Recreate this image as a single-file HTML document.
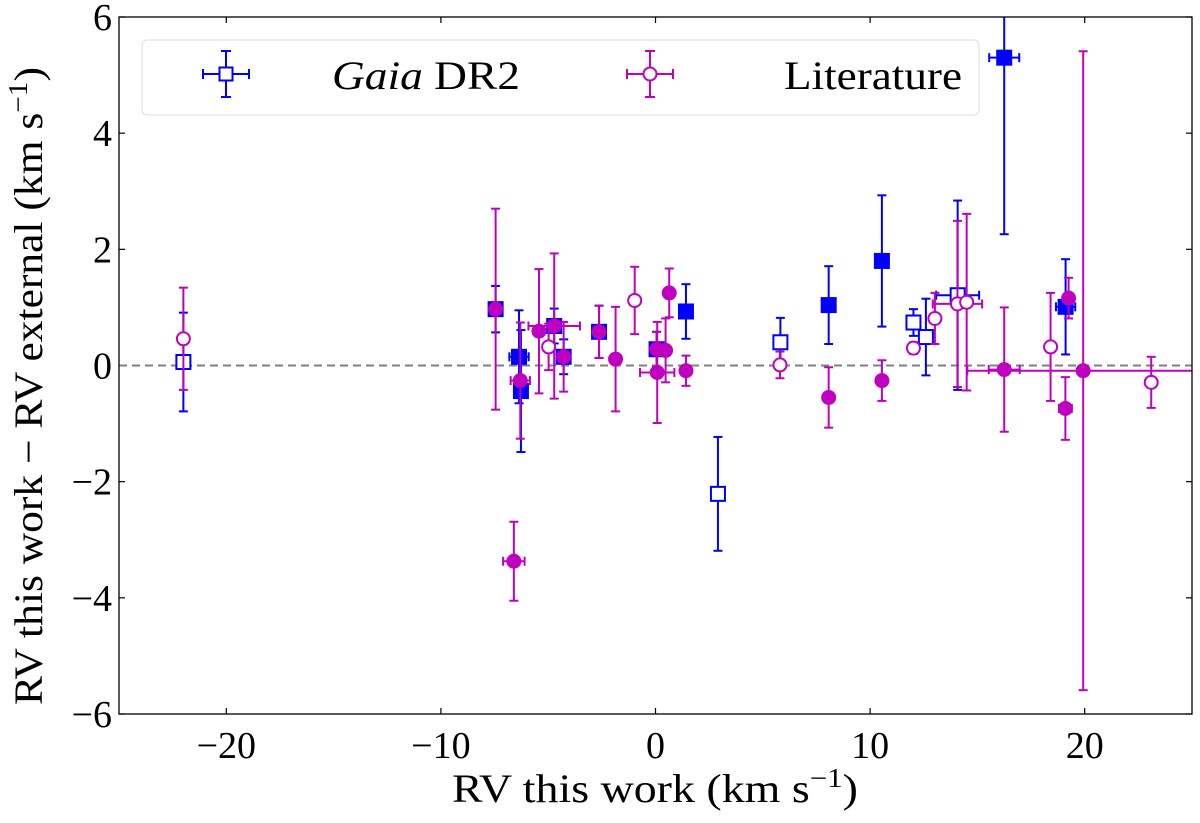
<!DOCTYPE html>
<html><head><meta charset="utf-8"><style>
html,body{margin:0;padding:0;background:#fff;}
svg text{font-family:"Liberation Serif",serif;fill:#000;}
</style></head><body>
<svg id="chart" width="1200" height="818" viewBox="0 0 1200 818" xmlns="http://www.w3.org/2000/svg">
<defs><clipPath id="plotclip"><rect x="119" y="17" width="1073" height="697"/></clipPath></defs>
<rect x="0" y="0" width="1200" height="818" fill="#fff"/>
<g id="grid"></g>
<g id="marks" clip-path="url(#plotclip)"></g>
<rect x="119" y="17" width="1073" height="697" fill="none" stroke="#000" stroke-width="1.3"/>
<g id="legend">
  <rect x="142" y="40" width="837" height="75" rx="5" fill="#fff" fill-opacity="0.8" stroke="#ddd" stroke-width="1"/>
  <g>
    <line x1="203" y1="74" x2="249" y2="74" stroke="#0000ff" stroke-width="2"/>
    <line x1="203" y1="69" x2="203" y2="79" stroke="#0000ff" stroke-width="2"/>
    <line x1="249" y1="69" x2="249" y2="79" stroke="#0000ff" stroke-width="2"/>
    <line x1="226" y1="51" x2="226" y2="97" stroke="#0000ff" stroke-width="2"/>
    <line x1="221" y1="51" x2="231" y2="51" stroke="#0000ff" stroke-width="2"/>
    <line x1="221" y1="97" x2="231" y2="97" stroke="#0000ff" stroke-width="2"/>
    <rect x="219.5" y="67.5" width="13" height="13" fill="#fff" stroke="#0000ff" stroke-width="2"/>
    <text x="332" y="89" font-size="40" textLength="188" lengthAdjust="spacingAndGlyphs"><tspan font-style="italic">Gaia</tspan> DR2</text>
  </g>
  <g>
    <line x1="627" y1="74" x2="673" y2="74" stroke="#bf00bf" stroke-width="2"/>
    <line x1="627" y1="69" x2="627" y2="79" stroke="#bf00bf" stroke-width="2"/>
    <line x1="673" y1="69" x2="673" y2="79" stroke="#bf00bf" stroke-width="2"/>
    <line x1="650" y1="51" x2="650" y2="97" stroke="#bf00bf" stroke-width="2"/>
    <line x1="645" y1="51" x2="655" y2="51" stroke="#bf00bf" stroke-width="2"/>
    <line x1="645" y1="97" x2="655" y2="97" stroke="#bf00bf" stroke-width="2"/>
    <circle cx="650" cy="74" r="6.5" fill="#fff" stroke="#bf00bf" stroke-width="2"/>
    <text x="784" y="89" font-size="40" textLength="178" lengthAdjust="spacingAndGlyphs">Literature</text>
  </g>
</g>
<text x="452" y="802" font-size="40" textLength="406" lengthAdjust="spacingAndGlyphs">RV this work (km s<tspan dy="-15" font-size="27">−1</tspan><tspan dy="15">)</tspan></text>
<text transform="translate(42,705) rotate(-90)" font-size="40" textLength="638" lengthAdjust="spacingAndGlyphs">RV this work − RV external (km s<tspan dy="-15" font-size="27">−1</tspan><tspan dy="15">)</tspan></text>
</svg>
<script>
const xTicks = [-20, -10, 0, 10, 20];
const yTicks = [-6, -4, -2, 0, 2, 4, 6];
const xTickLabels = ["−20", "−10", "0", "10", "20"];
const yTickLabels = ["−6", "−4", "−2", "0", "2", "4", "6"];

const gaiaX = [-22.0, -7.45, -6.36, -6.27, -4.72, -4.28, -2.63, 0.05, 1.42, 2.91, 5.82, 8.07, 10.55, 12.02, 12.6, 14.08, 16.25, 19.11];
const gaiaY = [0.06, 0.97, 0.15, -0.44, 0.68, 0.15, 0.58, 0.28, 0.93, -2.21, 0.40, 1.04, 1.8, 0.74, 0.49, 1.21, 5.3, 1.01];
const gaiaXerr = [0, 0, 0.45, 0, 0, 0, 0, 0, 0, 0, 0, 0, 0, 0, 0, 1.0, 0.7, 0.45];
const gaiaYerr = [0.85, 0.4, 0.8, 1.05, 0.3, 0.3, 0.45, 0.3, 0.47, 0.98, 0.42, 0.67, 1.13, 0.23, 0.66, 1.63, 3.04, 0.82];
const gaiaFilled = [0, 1, 1, 1, 1, 1, 1, 1, 1, 0, 0, 1, 1, 0, 0, 0, 1, 1];

const litX = [-22.0, -7.45, -6.6, -6.3, -5.43, -4.72, -4.98, -4.28, -2.63, -1.86, -0.97, 0.08, 0.05, 0.47, 0.64, 1.42, 5.8, 8.07, 10.55, 12.02, 13.02, 14.07, 14.5, 16.25, 18.41, 19.1, 19.25, 19.93, 23.1];
const litY = [0.46, 0.97, -3.37, -0.26, 0.59, 0.68, 0.32, 0.15, 0.58, 0.11, 1.12, -0.12, 0.28, 0.26, 1.25, -0.09, 0.01, -0.55, -0.26, 0.3, 0.81, 1.06, 1.09, -0.07, 0.32, -0.74, 1.16, -0.09, -0.29];
const litXerr = [0.2, 0, 0.5, 0.45, 0, 1.2, 0, 0, 0, 0, 0.2, 0.8, 0, 0, 0, 0, 0, 0, 0.15, 0, 0, 1.15, 0, 0.72, 0.15, 0.3, 0, 5.4, 0.2];
const litYerr = [0.88, 1.73, 0.68, 1.0, 1.07, 1.25, 0.4, 0.6, 0.45, 0.9, 0.58, 0.87, 0.3, 0.55, 0.42, 0.26, 0.23, 0.52, 0.35, 0.1, 0.44, 1.43, 1.52, 1.07, 0.93, 0.54, 0.35, 5.5, 0.44];
const litFilled = [0, 1, 1, 1, 1, 1, 0, 1, 1, 1, 0, 1, 1, 1, 1, 1, 0, 1, 1, 0, 0, 0, 0, 1, 0, 1, 1, 1, 0];

const NS = "http://www.w3.org/2000/svg";
const X0 = 119, X1 = 1192, Y0 = 714, Y1 = 17;
function sx(v){ return X0 + (v + 25) / 50 * (X1 - X0); }
function sy(v){ return Y0 - (v + 6) / 12 * (Y0 - Y1); }
function mk(tag, attrs, parent){
  const e = document.createElementNS(NS, tag);
  for (const k in attrs) e.setAttribute(k, attrs[k]);
  parent.appendChild(e);
  return e;
}
const grid = document.getElementById('grid');
const marks = document.getElementById('marks');

xTicks.forEach((t, i) => {
  const x = sx(t);
  const a = mk('line', {x1:x, y1:Y0, x2:x, y2:Y0-6, stroke:'#000', 'stroke-width':1.2}, grid);
  
  
  const b = mk('line', {x1:x, y1:Y1, x2:x, y2:Y1+6, stroke:'#000', 'stroke-width':1.2}, grid);
  
  
  const tx = mk('text', {x:x, y:Y0+44, 'font-size':38, 'text-anchor':'middle'}, grid);
  tx.textContent = xTickLabels[i];
  
  
});
yTicks.forEach((t, i) => {
  const y = sy(t);
  const a = mk('line', {x1:X0, y1:y, x2:X0+6, y2:y, stroke:'#000', 'stroke-width':1.2}, grid);
  
  
  const b = mk('line', {x1:X1, y1:y, x2:X1-6, y2:y, stroke:'#000', 'stroke-width':1.2}, grid);
  
  
  const tx = mk('text', {x:X0-7, y:y+13, 'font-size':38, 'text-anchor':'end'}, grid);
  tx.textContent = yTickLabels[i];
  
  
});

const zl = mk('line', {x1:X0, y1:sy(0), x2:X1, y2:sy(0), stroke:'#808080', 'stroke-width':2, 'stroke-dasharray':'8,5'}, marks);



function drawSeries(xs, ys, xe, ye, filled, color, shape, name){
  for (let i = 0; i < xs.length; i++){
    const g = mk('g', {}, marks);
    
    
    const cx = sx(xs[i]), cy = sy(ys[i]);
    const sw = {stroke:color, 'stroke-width':2};
    if (ye[i] > 0){
      const t = sy(ys[i] + ye[i]), b = sy(ys[i] - ye[i]);
      mk('line', Object.assign({x1:cx, y1:t, x2:cx, y2:b}, sw), g);
      mk('line', Object.assign({x1:cx-4.5, y1:t, x2:cx+4.5, y2:t}, sw), g);
      mk('line', Object.assign({x1:cx-4.5, y1:b, x2:cx+4.5, y2:b}, sw), g);
    }
    if (xe[i] > 0){
      const l = sx(xs[i] - xe[i]), r = sx(xs[i] + xe[i]);
      mk('line', Object.assign({x1:l, y1:cy, x2:r, y2:cy}, sw), g);
      mk('line', Object.assign({x1:l, y1:cy-4.5, x2:l, y2:cy+4.5}, sw), g);
      mk('line', Object.assign({x1:r, y1:cy-4.5, x2:r, y2:cy+4.5}, sw), g);
    }
    const fill = filled[i] ? color : '#fff';
    if (shape === 'square'){
      mk('rect', {x:cx-7, y:cy-7, width:14, height:14, fill:fill, stroke:color, 'stroke-width':2}, g);
    } else {
      mk('circle', {cx:cx, cy:cy, r:6.5, fill:fill, stroke:color, 'stroke-width':2}, g);
    }
  }
}
drawSeries(gaiaX, gaiaY, gaiaXerr, gaiaYerr, gaiaFilled, '#0000ff', 'square', 'gaia');
drawSeries(litX, litY, litXerr, litYerr, litFilled, '#bf00bf', 'circle', 'literature');
</script>
</body></html>
